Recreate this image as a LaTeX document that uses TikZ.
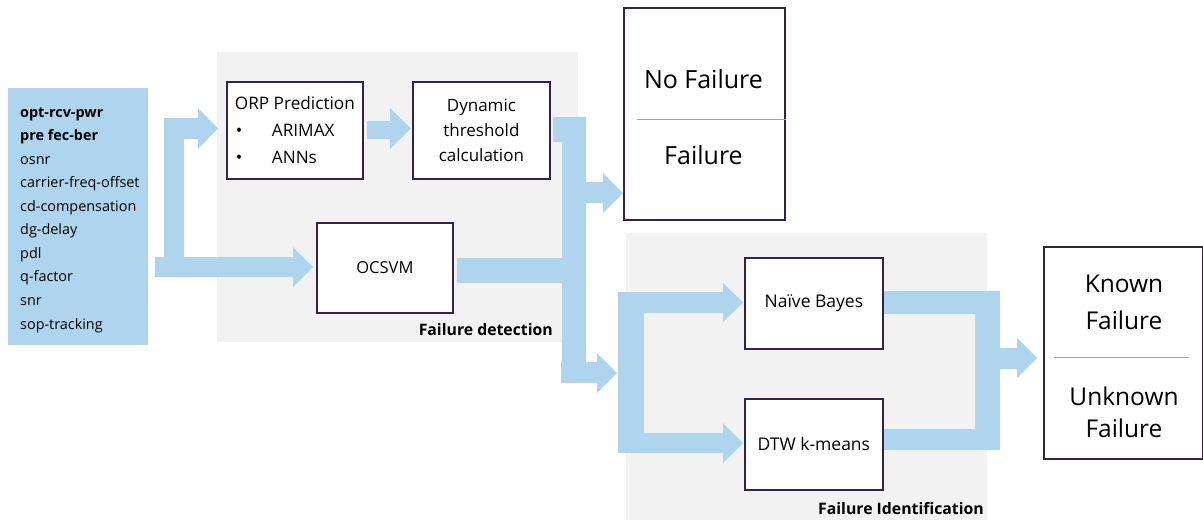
\documentclass[tikz,border=0pt]{standalone}
\usepackage{fontspec}
\setmainfont{Open Sans}
\definecolor{flow}{RGB}{174,213,237}
\definecolor{panel}{RGB}{242,242,242}
\definecolor{edge}{RGB}{52,34,74}
\definecolor{sep}{RGB}{165,165,165}
\begin{document}
\begin{tikzpicture}[x=1pt,y=-1pt,
  box/.style={draw=edge, line width=1.8pt, fill=white, inner sep=0pt, anchor=north west},
  lbl/.style={font=\bfseries\fontsize{15.8}{18}\selectfont, anchor=east, inner sep=0pt},
  flowfill/.style={fill=flow},
  sepline/.style={draw=sep, line width=1pt}]
\useasboundingbox (0,0) rectangle (1203,523);
\fill[white] (0,0) rectangle (1203,523);

% panels
\fill[panel] (217,52) rectangle (578,342);
\fill[panel] (626,233) rectangle (987,520);
\node[lbl] (detlabel) at (553,330) {Failure detection};
\node[lbl] (idlabel) at (984,509) {Failure Identification};

% input box
\node[fill=flow, minimum width=140pt, minimum height=257pt, inner sep=0pt, anchor=north west] (in) at (8,88) {};
\node[anchor=west, align=left, inner sep=0pt, font=\fontsize{14.4}{23.55}\selectfont] (inlist) at (20,220)
{\textbf{opt-rcv-pwr}\\\textbf{pre fec-ber}\\osnr\\carrier-freq-offset\\cd-compensation\\dg-delay\\pdl\\q-factor\\snr\\sop-tracking};

% flow arrows: input splitter
\fill[flowfill] (155,257) -- (293,257) -- (293,247) -- (313,267) -- (293,287) -- (293,277) -- (155,277) -- cycle;
\fill[flowfill] (164,118) rectangle (184,270);
\fill[flowfill] (164,118) -- (198,118) -- (198,108) -- (218,128.5) -- (198,149) -- (198,139) -- (164,139) -- cycle;

% ORP -> Dynamic
\fill[flowfill] (367,121) -- (390,121) -- (390,108) -- (411,128.5) -- (390,149) -- (390,139) -- (367,139) -- cycle;

% detection merge
\fill[flowfill] (553,117) rectangle (586,142);
\fill[flowfill] (562,117) rectangle (586,383);
\fill[flowfill] (457,258) rectangle (565,283);
\fill[flowfill] (584,182) -- (603,182) -- (603,173) -- (623,193) -- (603,213) -- (603,203) -- (584,203) -- cycle;
\fill[flowfill] (561,362) -- (597,362) -- (597,353) -- (617,373) -- (597,393) -- (597,383) -- (561,383) -- cycle;

% identification splitter
\fill[flowfill] (618,292) rectangle (644,453);
\fill[flowfill] (640,292) -- (723,292) -- (723,283) -- (743,302.5) -- (723,322) -- (723,313) -- (640,313) -- cycle;
\fill[flowfill] (640,433) -- (723,433) -- (723,423) -- (743,443) -- (723,463) -- (723,453) -- (640,453) -- cycle;

% identification merge
\fill[flowfill] (883,291) rectangle (1000,314);
\fill[flowfill] (975,291) rectangle (1000,450);
\fill[flowfill] (883,429) rectangle (1000,450);
\fill[flowfill] (998,348) -- (1017,348) -- (1017,338) -- (1037,358) -- (1017,378) -- (1017,369) -- (998,369) -- cycle;

% boxes
\node[box, minimum width=136pt, minimum height=97pt, align=left, font=\fontsize{17.2}{27}\selectfont] (orp) at (226,81)
{ORP Prediction\\\makebox[37pt][l]{\hspace{1pt}\textbullet}ARIMAX\\\makebox[37pt][l]{\hspace{1pt}\textbullet}ANNs};
\node[box, minimum width=137pt, minimum height=97pt, align=center, font=\fontsize{17}{25}\selectfont] (dyn) at (412,81)
{Dynamic\\threshold\\calculation};
\node[box, minimum width=136pt, minimum height=90pt, font=\fontsize{16.5}{20}\selectfont] (ocsvm) at (316,222) {OCSVM};

\node[box, minimum width=161pt, minimum height=212pt] (nofail) at (623,7) {};
\node[font=\fontsize{25}{28}\selectfont, inner sep=0pt] (nofailtxt) at (703.5,79) {No Failure};
\node[font=\fontsize{25}{28}\selectfont, inner sep=0pt] (failtxt) at (703.5,155) {Failure};
\draw[sepline] (nofail.west |- 0,119) ++(14,0) coordinate (s1a) -- (nofail.east |- 0,119) ++(-11,0) coordinate (s1b);

\node[box, minimum width=138pt, minimum height=91pt, font=\fontsize{17.5}{20}\selectfont] (nb) at (744,257) {Naïve Bayes\hspace{11pt}};
\node[box, minimum width=138pt, minimum height=91pt, font=\fontsize{17.5}{20}\selectfont] (dtw) at (744,398) {DTW k-means};

\node[box, minimum width=159pt, minimum height=212pt] (known) at (1043,246) {};
\node[align=center, font=\fontsize{24.5}{37}\selectfont, inner sep=0pt] (knowntxt) at (1124,302) {Known\\Failure};
\node[align=center, font=\fontsize{24.5}{32}\selectfont, inner sep=0pt] (unknowntxt) at (1124,412) {Unknown\\Failure};
\draw[sepline] (1054,357) coordinate (s2a) -- (1189,357) coordinate (s2b);
\end{tikzpicture}
\end{document}
